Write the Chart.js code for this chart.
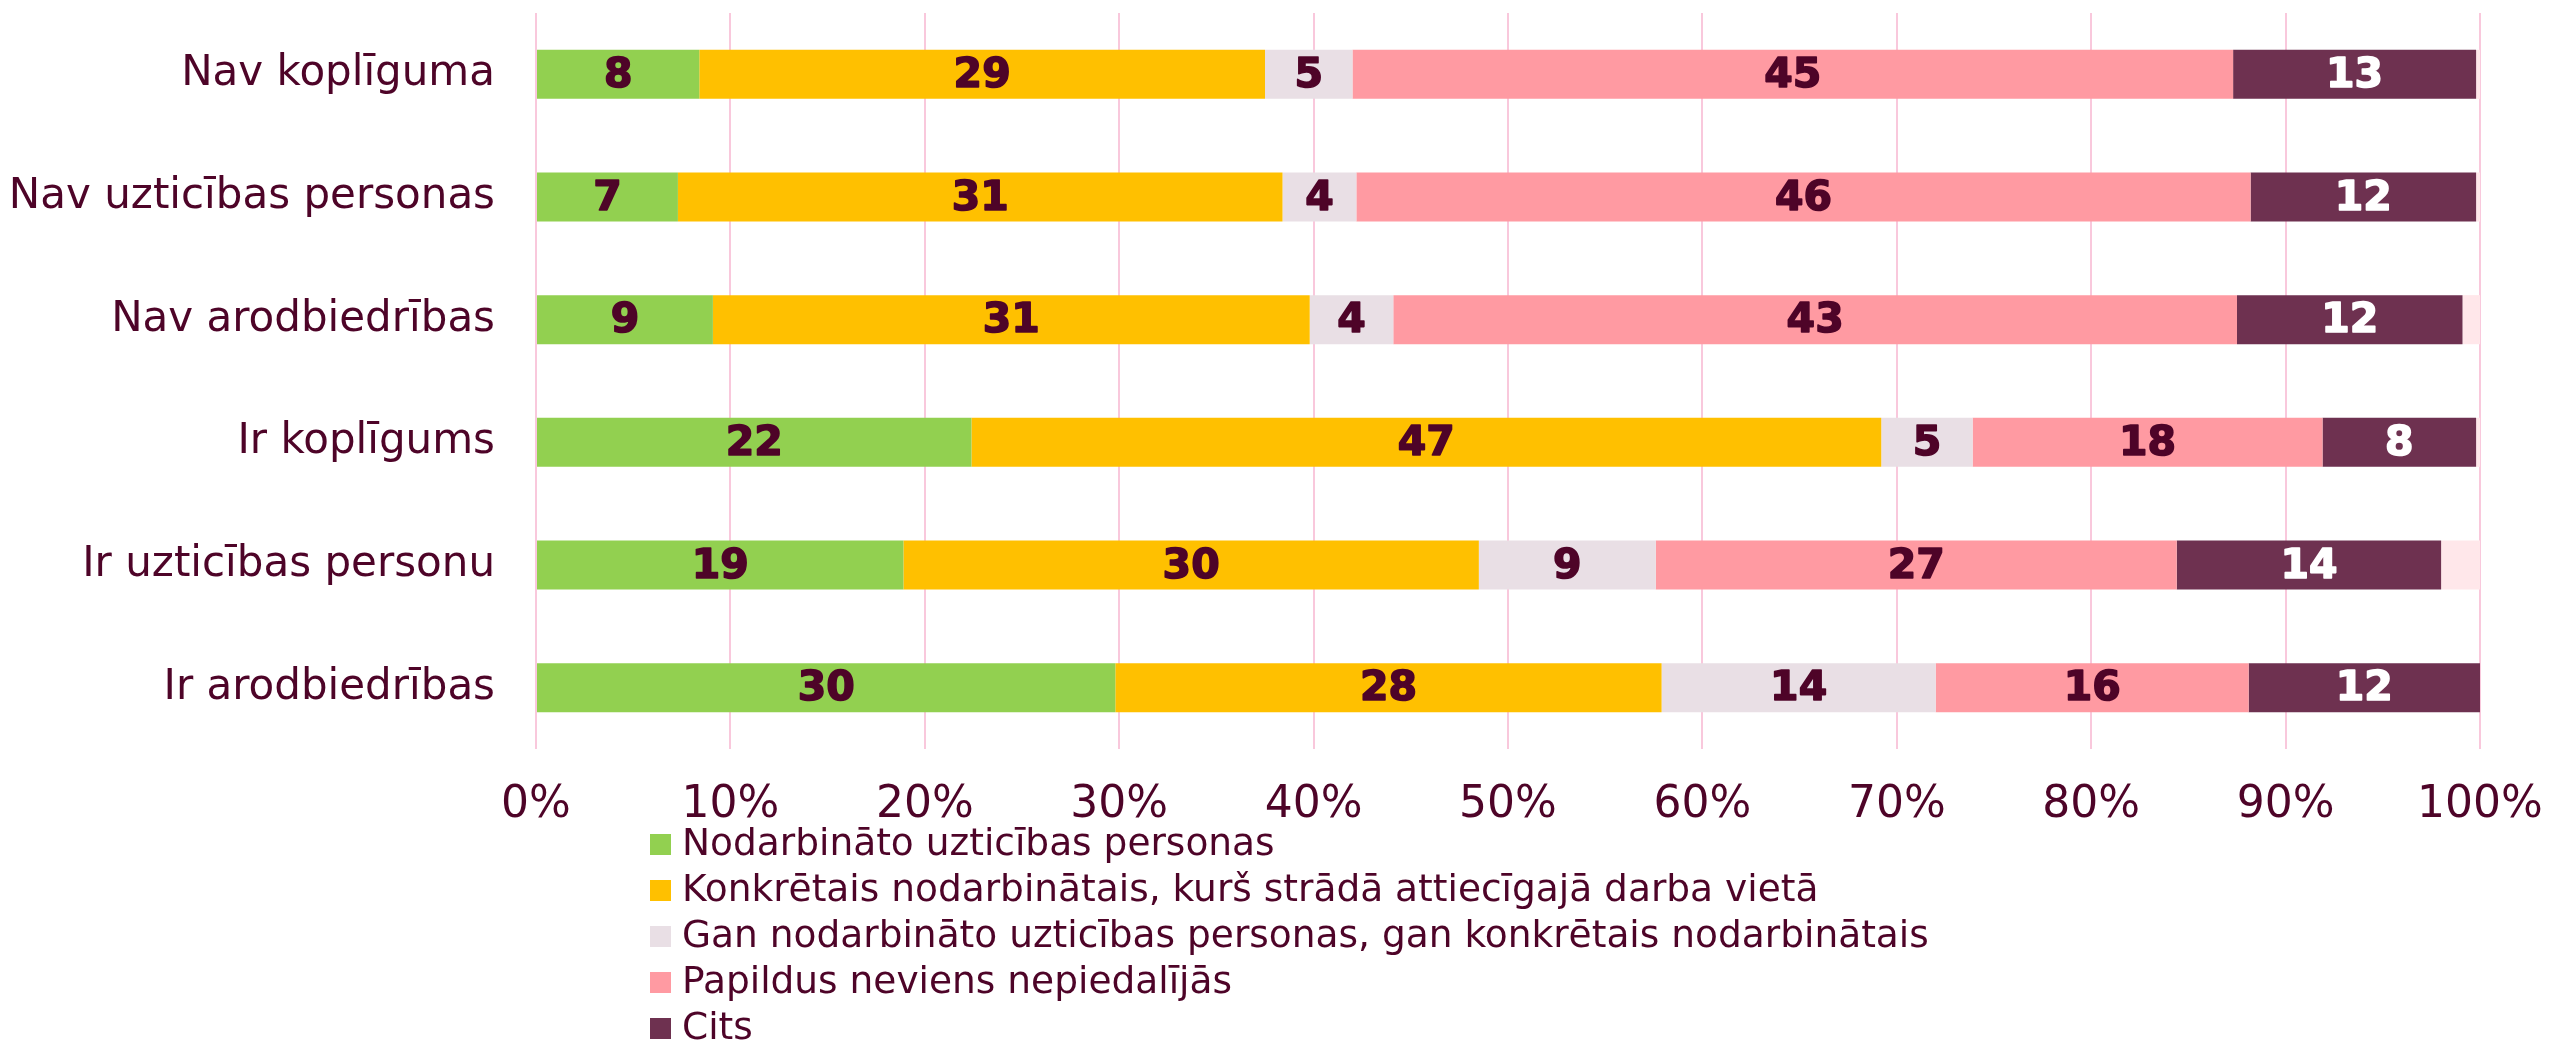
<!DOCTYPE html>
<html>
<head>
<meta charset="utf-8">
<script src="https://cdn.jsdelivr.net/npm/chart.js@4.4.1/dist/chart.umd.min.js"></script>
<style>
  html, body { margin: 0; padding: 0; background: #ffffff; }
  #wrap { width: 2552px; height: 1041px; position: relative; }
</style>
</head>
<body>
<div id="wrap"><canvas id="c" width="2552" height="1041"></canvas></div>
<script>
// ---- Data ----
const categories = [
  "Nav koplīguma",
  "Nav uzticības personas",
  "Nav arodbiedrības",
  "Ir koplīgums",
  "Ir uzticības personu",
  "Ir arodbiedrības"
];
const seriesNames = [
  "Nodarbināto uzticības personas",
  "Konkrētais nodarbinātais, kurš strādā attiecīgajā darba vietā",
  "Gan nodarbināto uzticības personas, gan konkrētais nodarbinātais",
  "Papildus neviens nepiedalījās",
  "Cits"
];
const nodarbinato = [8.4, 7.3, 9.1, 22.4, 18.9, 29.8];
const konkretais  = [29.1, 31.1, 30.7, 46.8, 29.6, 28.1];
const ganGan      = [4.5, 3.8, 4.3, 4.7, 9.1, 14.1];
const papildus    = [45.3, 46.0, 43.4, 18.0, 26.8, 16.1];
const cits        = [12.5, 11.6, 11.6, 7.9, 13.6, 11.9];
const remainder   = [0.2, 0.2, 0.9, 0.2, 2.0, 0.0];   // unlabelled rest up to 100%
const xTicks = [0, 10, 20, 30, 40, 50, 60, 70, 80, 90, 100];

// ---- Styles ----
const colors = ["#92D050", "#FFC000", "#E9DFE5", "#FF9AA2", "#6E3150", "#FFE7EA"];
const labelColors = ["#4E0428", "#4E0428", "#4E0428", "#4E0428", "#FFFFFF"];
const textColor = "#4E0428";
const gridColor = "#F9C8DC";

const seriesValues = [nodarbinato, konkretais, ganGan, papildus, cits, remainder];
const datasets = seriesValues.map((vals, i) => ({
  label: i < seriesNames.length ? seriesNames[i] : "",
  data: vals,
  backgroundColor: colors[i],
  borderWidth: 0,
  barPercentage: 0.4,
  categoryPercentage: 1.0
}));

const valueLabels = {
  id: "valueLabels",
  afterDatasetsDraw(chart) {
    const ctx = chart.ctx;
    ctx.save();
    ctx.font = "bold 41px 'DejaVu Sans'";
    ctx.textAlign = "center";
    ctx.textBaseline = "middle";
    ctx.lineWidth = 1.6;
    ctx.lineJoin = "round";
    for (let d = 0; d < seriesNames.length; d++) {
      const meta = chart.getDatasetMeta(d);
      meta.data.forEach((el, i) => {
        const v = chart.data.datasets[d].data[i];
        if (!v) return;
        const p = el.getProps(["x", "y", "base"], true);
        const tx = (p.x + p.base) / 2, ty = p.y + 2;
        ctx.fillStyle = labelColors[d];
        ctx.strokeStyle = labelColors[d];
        ctx.fillText(String(Math.round(v)), tx, ty);
        ctx.strokeText(String(Math.round(v)), tx, ty);
      });
    }
    ctx.restore();
  }
};

const stackedLegend = {
  id: "stackedLegend",
  afterDraw(chart) {
    const ctx = chart.ctx;
    const ca = chart.chartArea;
    ctx.save();
    ctx.font = "37.5px 'DejaVu Sans'";
    ctx.textAlign = "left";
    ctx.textBaseline = "middle";
    const x0 = 650, box = 21, rowH = 46;
    const y0 = ca.bottom + 95.5;
    seriesNames.forEach((name, i) => {
      const cy = y0 + i * rowH;
      ctx.fillStyle = colors[i];
      ctx.fillRect(x0, cy - box / 2, box, box);
      ctx.fillStyle = textColor;
      ctx.fillText(name, x0 + 32, cy + 1);
    });
    ctx.restore();
  }
};

new Chart(document.getElementById("c"), {
  type: "bar",
  data: { labels: categories, datasets },
  options: {
    indexAxis: "y",
    responsive: false,
    devicePixelRatio: 1,
    animation: false,
    layout: { padding: { top: 13, right: 72, bottom: 192, left: 0 } },
    plugins: {
      legend: { display: false },
      tooltip: { enabled: false }
    },
    scales: {
      x: {
        stacked: true,
        min: 0,
        max: 100,
        afterBuildTicks(scale) { scale.ticks = xTicks.map(v => ({ value: v })); },
        afterFit(scale) {
          scale.height = 100;
          scale.paddingLeft = 0;
          scale.paddingRight = 0;
        },
        grid: { color: gridColor, lineWidth: 2, drawTicks: false },
        border: { display: false },
        ticks: {
          color: textColor,
          font: { family: "DejaVu Sans", size: 44 },
          padding: 30,
          maxRotation: 0,
          callback: v => v + "%"
        }
      },
      y: {
        stacked: true,
        afterFit(scale) {
          scale.width = 536;
          scale.paddingTop = 0;
          scale.paddingBottom = 0;
        },
        grid: { display: false, drawTicks: false },
        border: { display: false },
        ticks: {
          color: textColor,
          font: { family: "DejaVu Sans", size: 42 },
          padding: 41
        }
      }
    }
  },
  plugins: [valueLabels, stackedLegend]
});
</script>
</body>
</html>
